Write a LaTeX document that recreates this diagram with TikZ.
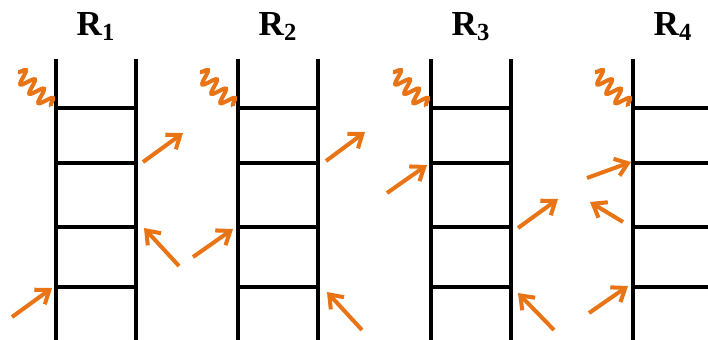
\documentclass[tikz,border=0pt]{standalone}
\usepackage{fontspec}
\setmainfont{Liberation Serif}
\usetikzlibrary{arrows.meta, decorations.pathmorphing}
\definecolor{phot}{RGB}{232,116,22}

\begin{document}
\begin{tikzpicture}[
  x=0.02cm, y=-0.02cm,
  rail/.style={line width=2.2pt, draw=black},
  ray/.style={line width=2.3pt, draw=phot, -{Straight Barb[length=2.4mm, width=3.6mm]}},
  wave/.style={line width=2.3pt, draw=phot, decorate,
    decoration={snake, amplitude=1.4mm, segment length=2.6mm}},
  lbl/.style={font=\fontsize{20}{24}\selectfont\bfseries, anchor=base}
]
\useasboundingbox (0,0) rectangle (708,339);
\clip (0,0) rectangle (708,339);
% ladders R1..R4
\foreach \n/\xl/\xr in {1/56/136, 2/238/318, 3/431/511, 4/633/713} {
  \coordinate (L\n-top) at (\xl,59);
  \coordinate (L\n-bot) at (\xl,345);
  \coordinate (R\n-top) at (\xr,59);
  \coordinate (R\n-bot) at (\xr,345);
  \draw[rail] (L\n-top) -- (L\n-bot);
  \draw[rail] (R\n-top) -- (R\n-bot);
  \foreach \y [count=\r] in {108,163,227,287} {
    \coordinate (L\n-\r) at (\xl,\y);
    \coordinate (R\n-\r) at (\xr,\y);
    \draw[rail] (L\n-\r) -- (R\n-\r);
  }
  \node[lbl] (lab\n) at ({(\xl+\xr)/2},35) {R\textsubscript{\n}};
  % incoming wave at the top rung
  \coordinate (ws\n) at ({\xl-38},72);
  \coordinate (we\n) at ({\xl-5},106);
  \draw[wave] (ws\n) -- (we\n);
}
% scattered rays
\foreach \tx/\ty/\hx/\hy [count=\i] in {
  143/162/183/133, 179/266/144/228, 12/317/52/288, 193/257/233/229,
  326/161/365/132, 362/330/327/292,
  387/193/427/165, 518/228/558/199, 554/330/518/293,
  587/178/631/162, 623/222/590/202, 589/313/628/286} {
  \coordinate (t\i) at (\tx,\ty);
  \coordinate (h\i) at (\hx,\hy);
  \draw[ray] (t\i) -- (h\i);
}
\end{tikzpicture}
\end{document}
